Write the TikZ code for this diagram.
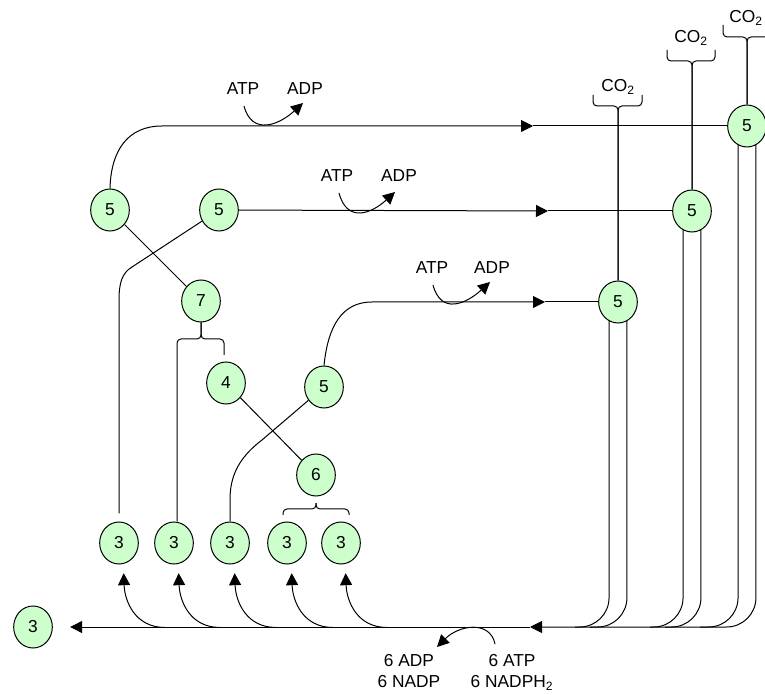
\documentclass[tikz,border=0pt]{standalone}
\usepackage{fontspec}
\setmainfont{Liberation Sans}
\usetikzlibrary{arrows.meta, shapes.geometric, calc}
\definecolor{Leaf}{HTML}{CCFFCC}
\tikzset{
  sugar/.style={ellipse, draw=black, fill=Leaf, line width=0.75pt,
                minimum width=29pt, minimum height=31.5pt, inner sep=0pt,
                font=\fontsize{13}{15}\selectfont},
  cofac/.style={inner sep=0pt, align=center,
                font=\fontsize{13}{15.75}\selectfont},
  brc/.style={rounded corners=3pt},
  leg/.style={rounded corners=22pt},
}

\begin{document}
\begin{tikzpicture}[
          x=0.75pt, y=-0.75pt, line width=0.75pt,
          arr/.style={-{Triangle[length=9pt, width=9pt]}}
        ]
          \useasboundingbox (0,0) rectangle (765,695);
          % carbon skeletons
          \node[sugar] (A) at (110,210) {5};
          \node[sugar] (B) at (219,210) {5};
          \node[sugar] (N7) at (201,301) {7};
          \node[sugar] (N4) at (226,383) {4};
          \node[sugar] (C) at (324,387) {5};
          \node[sugar] (N6) at (316,475) {6};
          \node[sugar] (t1) at (119,543) {3};
          \node[sugar] (t2) at (174,543) {3};
          \node[sugar] (t3) at (230,543) {3};
          \node[sugar] (t4) at (287,543) {3};
          \node[sugar] (t5) at (341,543) {3};
          \node[sugar] (L3) at (33,627) {3};
          \node[sugar] (r1) at (618,302) {5};
          \node[sugar] (r2) at (692,211) {5};
          \node[sugar] (r3) at (747,126) {5};
          % cofactors
          \node[cofac] (atp1) at (243,89) {ATP};
          \node[cofac] (adp1) at (305,89) {ADP};
          \node[cofac] (atp2) at (337,176) {ATP};
          \node[cofac] (adp2) at (399,176) {ADP};
          \node[cofac] (atp3) at (432,268) {ATP};
          \node[cofac] (adp3) at (492,268) {ADP};
          \node[cofac, anchor=north] (adp4) at (409,654) {6 ADP\\6 NADP};
          \node[cofac, anchor=north] (atp4) at (512,654) {6 ATP\\6 NADPH\textsubscript{2}};
          \node[cofac] (co1) at (618,87) {CO\textsubscript{2}};
          \node[cofac] (co2) at (691,38) {CO\textsubscript{2}};
          \node[cofac] (co3) at (746,18) {CO\textsubscript{2}};
          \coordinate (m1) at (533,126);
          \coordinate (m2) at (548,211);
          \coordinate (m3) at (545,302);
          \coordinate (m4) at (530,627);
          % upper lines to the right
          \draw[arr] (A.north) .. controls (111,150) and (128,126) .. (162,126) -- (m1);
          \draw (m1) -- (r3);
          \draw[arr] (B) -- (m2);
          \draw (m2) -- (r2);
          \draw[arr] (C.north) .. controls (328,326) and (342,302) .. (372,302) -- (m3);
          \draw (m3) -- (r1);
          \draw[arr] ($(atp1)+(1,17)$) .. controls +(8,30) and +(-24,22) .. ($(adp1)+(-2,14)$);
          \draw[arr] ($(atp2)+(2,17)$) .. controls +(8,30) and +(-24,22) .. ($(adp2)+(-4,16)$);
          \draw[arr] ($(atp3)+(1,17)$) .. controls +(8,30) and +(-24,22) .. ($(adp3)+(-2,14)$);
          % CO2 release
          \coordinate (k1l) at (593,106); \coordinate (k1r) at (642,106);
          \coordinate (k2l) at (667,61);  \coordinate (k2r) at (715,61);
          \coordinate (k3l) at (723,37);  \coordinate (k3r) at (772,37);
          \draw[brc] (r1.north) |- (k1l) -- ++(0,-11);
          \draw[brc] (r1.north) |- (k1r) -- ++(0,-11);
          \draw[brc] (r2.north) |- (k2l) -- ++(0,-11);
          \draw[brc] (r2.north) |- (k2r) -- ++(0,-11);
          \draw[brc] (r3.north) |- (k3l) -- ++(0,-12);
          \draw[brc] (r3.north) |- (k3r) -- ++(0,-12);
          % rearrangements
          \draw (A) -- (N7);
          \draw (N4) -- (N6);
          \draw (B) -- (132,267) .. controls (122,273) and (119,283) .. (119,300)
            -- ([yshift=6pt]t1.north);
          \coordinate (k7l) at (177,339); \coordinate (k7r) at (224,339);
          \draw[brc] (N7.south) |- (k7l) -- (k7l |- t2.north);
          \draw[brc] (N7.south) |- (k7r) -- ++(0,16);
          \draw (C) -- (262,440) .. controls (237,459) and (230,478) .. (230,500)
            -- (t3.north);
          \coordinate (k6l) at (283,509); \coordinate (k6r) at (349,509);
          \draw[brc] ([yshift=-5pt]N6.south) |- (k6l) -- ++(0,6);
          \draw[brc] ([yshift=-5pt]N6.south) |- (k6r) -- ++(0,6);
          % return to the bottom line
          \draw[arr, leg] (r3.295) |- (m4);
          \draw[leg] (r3.245) |- (700,627);
          \draw[leg] (r2.295) |- (665,627);
          \draw[leg] (r2.245) |- (650,627);
          \draw[leg] (r1.295) |- (590,627);
          \draw[leg] (r1.245) |- (575,627);
          \draw[arr, shorten >=13pt] (m4) -- (L3);
          \draw[arr] ($(atp4.north)+(-17,-10)$) .. controls +(-5,-24) and +(22,-22) .. ($(adp4.north)+(28,-7)$);
          % triose phosphates
          \draw[arr] ($(t1.south)+(46,63)$) .. controls +(-30,0) and +(1,28) .. ([xshift=3.5pt,yshift=-6.5pt]t1.south);
          \draw[arr] ($(t2.south)+(46,63)$) .. controls +(-30,0) and +(1,28) .. ([xshift=3.5pt,yshift=-6.5pt]t2.south);
          \draw[arr] ($(t3.south)+(46,63)$) .. controls +(-30,0) and +(1,28) .. ([xshift=3.5pt,yshift=-6.5pt]t3.south);
          \draw[arr] ($(t4.south)+(46,63)$) .. controls +(-30,0) and +(1,28) .. ([xshift=3.5pt,yshift=-6.5pt]t4.south);
          \draw[arr] ($(t5.south)+(46,63)$) .. controls +(-30,0) and +(1,28) .. ([xshift=3.5pt,yshift=-6.5pt]t5.south);
        \end{tikzpicture}
\end{document}
